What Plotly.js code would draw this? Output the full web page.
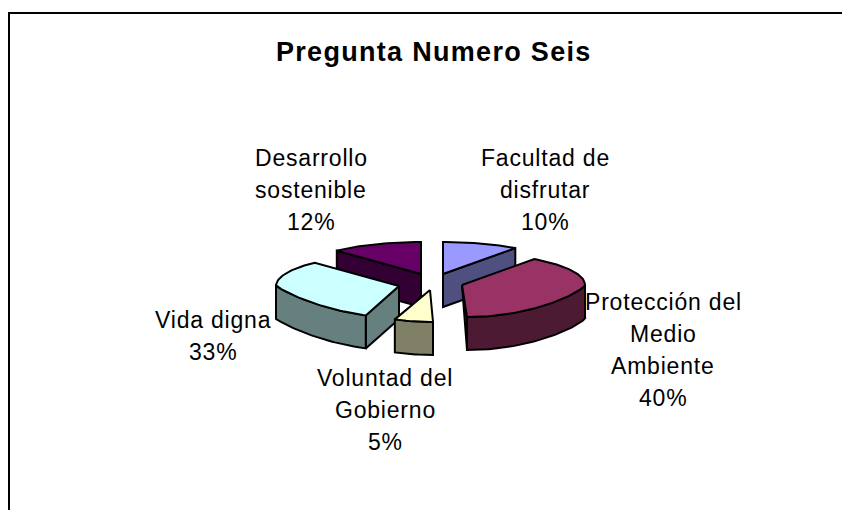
<!DOCTYPE html>
<html>
<head>
<meta charset="utf-8">
<script src="https://cdn.plot.ly/plotly-3.0.1.min.js"></script>
<style>html,body{margin:0;padding:0;background:#fff}#chart{width:842px;height:510px}
.annotation-text{letter-spacing:0.8px}
.annotation-text[data-unformatted^="<b>"]{letter-spacing:1.3px}</style>
</head>
<body>
<div id="chart"></div>
<script>
const categories = ["Facultad de disfrutar", "Protección del Medio Ambiente", "Voluntad del Gobierno", "Vida digna", "Desarrollo sostenible"];
const values = [10, 40, 5, 33, 12];
const labelLines = [["Facultad de", "disfrutar", "10%"], ["Protección del", "Medio", "Ambiente", "40%"], ["Voluntad del", "Gobierno", "5%"], ["Vida digna", "33%"], ["Desarrollo", "sostenible", "12%"]];
const topColors = ["#9999FF", "#993366", "#FFFFCC", "#CCFFFF", "#660066"];
const sideColors = ["#4F4F80", "#4D1A33", "#808066", "#668080", "#330033"];
const chartTitle = "Pregunta Numero Seis";

// layout of the drawing (pixel-unit axes)
const apexes = [[443, 274], [462, 285], [430, 290], [399, 286], [421, 274]];
const leans = [0, 5, 3, 5, 0];
const labelPos = [[545, 158], [663, 302], [385, 378], [213, 320], [311, 158]];
const RX = 123, RY = 32, DEPTH = 33, LINE_H = 32;
const paintOrder = [4, 0, 3, 1, 2];

const total = values.reduce((a, b) => a + b, 0);
let run = 0;
const spans = values.map(v => { const s = run / total * 2 * Math.PI; run += v; return [s, run / total * 2 * Math.PI]; });

function closed(points) {
  const p = points.concat([points[0]]);
  return { x: p.map(q => q[0]), y: p.map(q => q[1]) };
}
function face(points, color, name) {
  const c = closed(points);
  return { type: "scatter", mode: "lines", x: c.x, y: c.y, fill: "toself", fillcolor: color,
    line: { color: "#000", width: 2 }, name: name, hoverinfo: "name", showlegend: false };
}
// the front half of the rim is a little flatter than a true ellipse in the reference's 3-D projection
function rim(i, t) {
  const s = Math.sin(t), c = Math.cos(t);
  if (c >= 0) return [apexes[i][0] + RX * s, apexes[i][1] - RY * c];
  return [apexes[i][0] + RX * s + leans[i] * (-c), apexes[i][1] + RY * Math.pow(-c, 1.7)];
}
const down = p => [p[0], p[1] + DEPTH];

const traces = [];
paintOrder.forEach(i => {
  const [a, b] = spans[i];
  const n = Math.max(4, Math.round((b - a) * 40));
  const angles = [];
  for (let k = 0; k <= n; k++) angles.push(a + (b - a) * k / n);
  [Math.PI / 2, 3 * Math.PI / 2].forEach(q => { if (q > a && q < b) angles.push(q); });
  angles.sort((x, y) => x - y);
  const arc = angles.map(t => rim(i, t));
  const last = arc.length - 1;
  const apex = apexes[i];
  // radial walls, only when they face the viewer
  if (Math.sin(a) < -1e-6) traces.push(face([apex, arc[0], down(arc[0]), down(apex)], sideColors[i], categories[i]));
  if (Math.sin(b) > 1e-6) traces.push(face([apex, arc[last], down(arc[last]), down(apex)], sideColors[i], categories[i]));
  if (leans[i] > 0 && Math.abs(Math.sin(b)) < 1e-6) traces.push(face([apex, arc[last], down(arc[last])], sideColors[i], categories[i]));
  // outer rim wall, only the part facing the viewer
  const front = arc.filter((_, k) => Math.cos(angles[k]) <= 1e-6);
  if (front.length > 1) traces.push(face(front.concat(front.slice().reverse().map(down)), sideColors[i], categories[i]));
  traces.push(face([apex].concat(arc), topColors[i], categories[i]));
});

const FONT = "Liberation Sans, Arial, sans-serif";
const annotations = [{ text: "<b>" + chartTitle + "</b>", x: 434, y: 52, xref: "x", yref: "y", showarrow: false,
  font: { family: FONT, size: 27, color: "#000" } }];
labelLines.forEach((lines, i) => lines.forEach((line, k) => annotations.push({
  text: line, x: labelPos[i][0], y: labelPos[i][1] + k * LINE_H, xref: "x", yref: "y",
  showarrow: false, align: "center", font: { family: FONT, size: 23, color: "#000" }
})));

const layout = {
  width: 842, height: 510, margin: { l: 0, r: 0, t: 0, b: 0 }, paper_bgcolor: "#fff", plot_bgcolor: "#fff",
  xaxis: { range: [0, 842], visible: false, fixedrange: true },
  yaxis: { range: [510, 0], visible: false, fixedrange: true },
  showlegend: false, annotations: annotations,
  shapes: [{ type: "rect", xref: "x", yref: "y", x0: 9, y0: 13, x1: 900, y1: 600, line: { color: "#000", width: 2 }, fillcolor: "rgba(0,0,0,0)" }]
};
Plotly.newPlot("chart", traces, layout, { displayModeBar: false, staticPlot: true });
</script>
</body>
</html>
